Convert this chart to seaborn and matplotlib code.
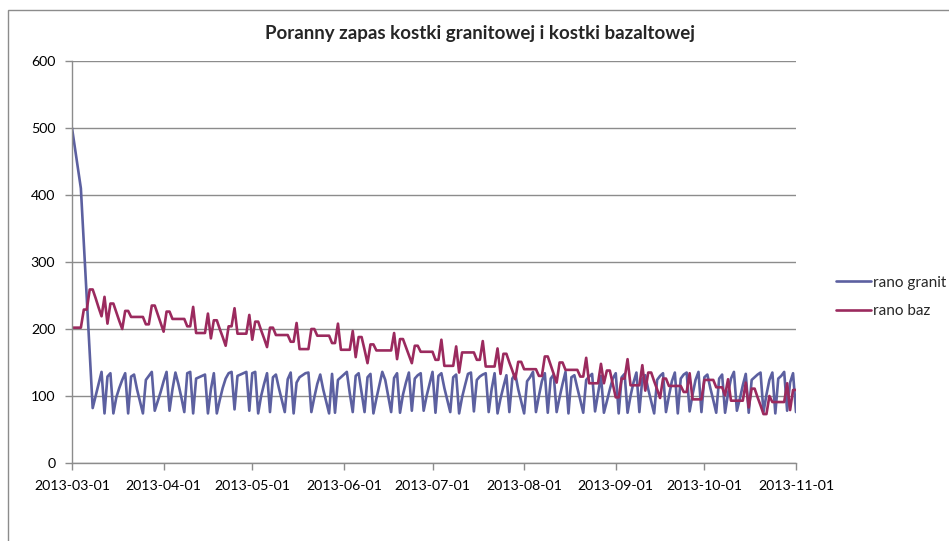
import pandas as pd
import seaborn as sns
import matplotlib.pyplot as plt
import matplotlib.dates as mdates
from matplotlib.patches import Rectangle

# morning stock, one value per day, 2013-03-01 .. 2013-11-01
dates = pd.date_range('2013-03-01', '2013-11-01', freq='D')

rano_granit = [
    500, 470, 440, 410, 328, 246, 164, 82, 100, 118,
    136, 74, 129, 134, 74, 98, 112, 124, 134, 74,
    129, 132, 110, 92, 74, 124, 130, 136, 78, 92,
    106, 122, 136, 78, 110, 135, 118, 98, 76, 134,
    136, 74, 126, 128, 130, 132, 74, 110, 134, 74,
    94, 112, 126, 134, 136, 80, 130, 132, 134, 136,
    78, 134, 136, 74, 100, 118, 134, 76, 128, 132,
    112, 94, 76, 125, 135, 74, 120, 128, 131, 134,
    135, 76, 98, 118, 132, 110, 92, 74, 133, 75,
    124, 128, 132, 136, 104, 76, 130, 134, 105, 76,
    128, 133, 74, 96, 116, 136, 124, 100, 76, 127,
    134, 75, 102, 120, 135, 78, 126, 131, 134, 78,
    100, 118, 136, 75, 130, 134, 112, 94, 76, 128,
    132, 74, 98, 116, 133, 135, 77, 124, 129, 132,
    134, 76, 110, 134, 74, 96, 114, 131, 76, 126,
    133, 110, 92, 74, 122, 128, 136, 76, 100, 122,
    134, 75, 126, 132, 76, 98, 118, 136, 74, 128,
    131, 112, 94, 75, 124, 129, 133, 77, 104, 130,
    75, 92, 110, 126, 134, 74, 128, 133, 75, 100,
    120, 135, 76, 126, 131, 110, 92, 74, 124, 130,
    134, 76, 100, 122, 135, 74, 126, 132, 135, 77,
    102, 124, 136, 76, 128, 132, 112, 94, 75, 126,
    132, 75, 104, 126, 136, 78, 96, 116, 133, 75,
    124, 128, 132, 135, 76, 102, 124, 135, 74, 126,
    130, 136, 78, 120, 134, 76,
]

rano_baz = [
    202, 202, 202, 202, 229, 229, 259, 259, 246, 232,
    219, 248, 208, 238, 238, 225, 212, 200, 227, 227,
    218, 218, 218, 218, 218, 207, 207, 235, 235, 222,
    209, 196, 226, 226, 215, 215, 215, 215, 215, 204,
    204, 233, 194, 194, 194, 194, 223, 186, 213, 213,
    200, 188, 175, 204, 204, 231, 193, 193, 193, 193,
    221, 184, 211, 211, 198, 186, 173, 202, 202, 191,
    191, 191, 191, 191, 181, 181, 209, 170, 170, 170,
    170, 200, 200, 190, 190, 190, 190, 190, 179, 179,
    208, 169, 169, 169, 169, 197, 158, 188, 188, 169,
    149, 177, 177, 168, 168, 168, 168, 168, 168, 194,
    155, 185, 185, 173, 161, 149, 175, 175, 166, 166,
    166, 166, 166, 154, 154, 184, 145, 145, 145, 145,
    174, 135, 165, 165, 165, 165, 165, 154, 154, 182,
    144, 144, 144, 144, 171, 133, 163, 163, 150, 138,
    125, 151, 151, 140, 140, 140, 140, 140, 130, 130,
    159, 159, 146, 133, 120, 150, 150, 139, 139, 139,
    139, 139, 129, 129, 157, 119, 119, 119, 119, 148,
    119, 138, 138, 118, 98, 98, 126, 126, 155, 116,
    116, 116, 116, 146, 108, 135, 135, 122, 110, 97,
    126, 126, 115, 115, 115, 115, 115, 106, 106, 134,
    95, 95, 95, 95, 124, 124, 124, 124, 113, 113,
    113, 101, 125, 93, 93, 93, 93, 93, 120, 83,
    111, 111, 98, 86, 73, 73, 100, 91, 91, 91,
    91, 91, 119, 79, 109, 109,
]

series_names = ['rano granit', 'rano baz']
colors = ['#5c60a0', '#9b2a5e']

df = pd.DataFrame({'data': dates, 'rano granit': rano_granit, 'rano baz': rano_baz})
long_df = df.melt(id_vars='data', value_vars=series_names, var_name='seria', value_name='zapas')

sns.set_style('white')
plt.rcParams['font.family'] = ['Lato', 'DejaVu Sans']

fig = plt.figure(figsize=(9.49, 5.41), dpi=100)
ax = fig.add_axes([72 / 949, 1 - 463 / 541, (796 - 72) / 949, (463 - 61) / 541])

# outer chart frame (cut off by the image edges)
fig.patches.append(Rectangle((8 / 949, -0.1), 1.2, 1 - 10 / 541 + 0.1, transform=fig.transFigure,
                             fill=False, edgecolor='#8c8c8c', linewidth=1.0))

sns.lineplot(data=long_df, x='data', y='zapas', hue='seria', hue_order=series_names,
             palette=colors, linewidth=1.9, ax=ax, legend=False)

ax.set_xlim(dates[0], dates[-1])
ax.set_ylim(0, 600)
ax.set_yticks(range(0, 601, 100))
ax.xaxis.set_major_locator(mdates.MonthLocator())
ax.xaxis.set_major_formatter(mdates.DateFormatter('%Y-%m-%d'))
ax.yaxis.grid(True, color='#8c8c8c', linewidth=1.0)
ax.set_axisbelow(True)
ax.set_xlabel('')
ax.set_ylabel('')
for s in ['top', 'right']:
    ax.spines[s].set_visible(False)
for s in ['left', 'bottom']:
    ax.spines[s].set_color('#8c8c8c')
    ax.spines[s].set_linewidth(1.0)
ax.tick_params(axis='both', direction='out', length=5, width=1, color='#8c8c8c',
               labelsize=10.2, labelcolor='black', pad=7)
ax.tick_params(axis='y', left=True)
ax.tick_params(axis='x', bottom=True)

fig.text(480 / 949, 1 - 33 / 541, 'Poranny zapas kostki granitowej i kostki bazaltowej',
         ha='center', va='center', fontsize=13.5, fontweight='bold')

handles = [plt.Line2D([], [], color=c, linewidth=1.9) for c in colors]
fig.legend(handles, series_names, loc='center left', bbox_to_anchor=(822 / 949, 1 - 297 / 541),
           frameon=False, fontsize=11, handlelength=2.3, handletextpad=0.15, labelspacing=0.95)

fig.savefig('out.png', dpi=100)
